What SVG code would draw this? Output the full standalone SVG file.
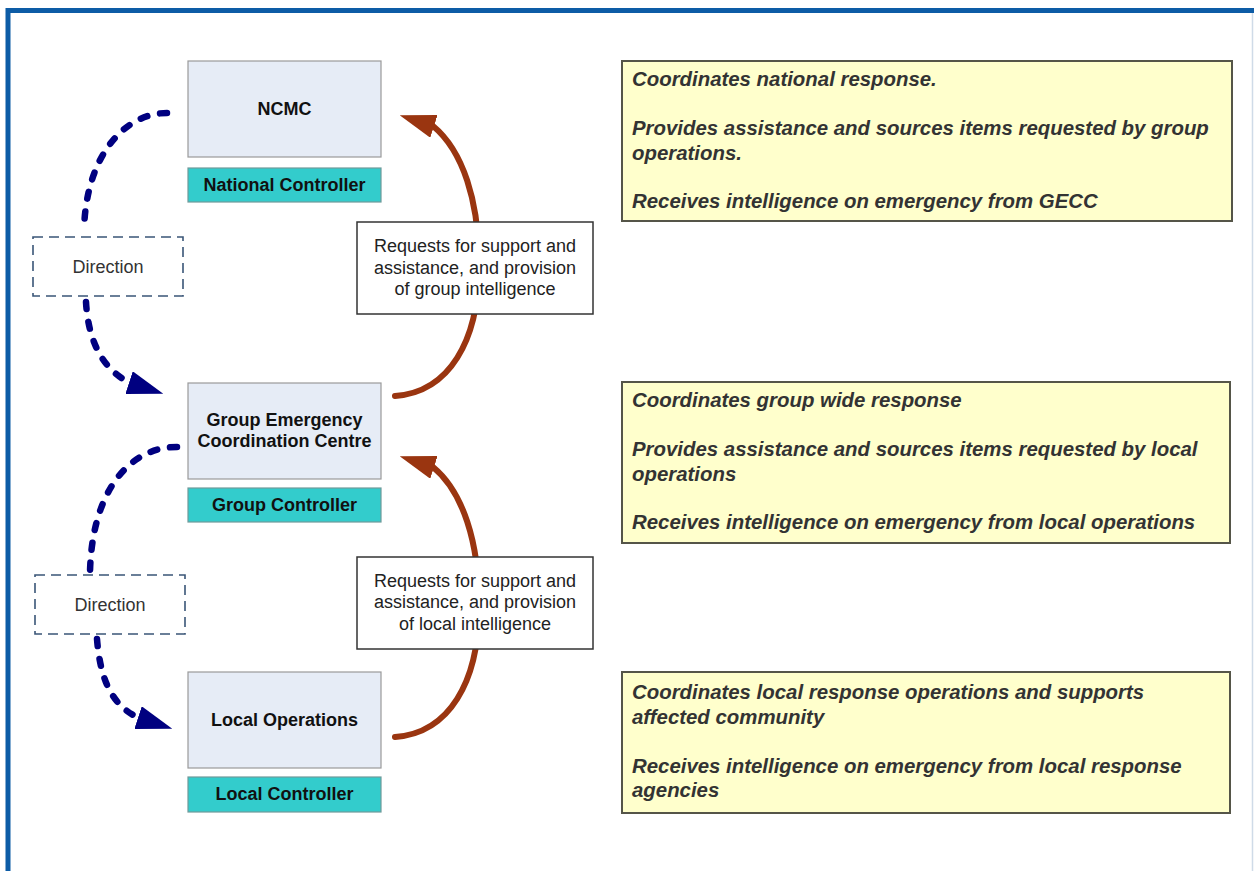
<svg xmlns="http://www.w3.org/2000/svg" width="1254" height="871" viewBox="0 0 1254 871">
  <defs>
    <style>
      text { font-family: "Liberation Sans", Arial, sans-serif; }
      .centre { fill: #e6ecf6; stroke: #9a9a9a; stroke-width: 1.2; }
      .role { fill: #33cccc; stroke: #6f9a9a; stroke-width: 1.2; }
      .nodeText { font-size: 18px; font-weight: bold; fill: #111; text-anchor: middle; }
      .dir { fill: #ffffff; stroke: #3a5577; stroke-width: 1.6; stroke-dasharray: 10 6; }
      .dirText { font-size: 18px; fill: #333; text-anchor: middle; }
      .req { fill: #ffffff; stroke: #333; stroke-width: 1.5; }
      .reqText { font-size: 18px; fill: #222; text-anchor: middle; }
      .note { fill: #ffffcc; stroke: #555548; stroke-width: 2; }
      .noteText { font-size: 20.4px; font-weight: bold; font-style: italic; fill: #333; }
      .direction { fill: none; stroke: #000080; stroke-width: 6.5; stroke-linecap: round; stroke-dasharray: 7 13; }
      .request { fill: none; stroke: #9a3510; stroke-width: 6; stroke-linecap: round; }
    </style>
    <marker id="headBlue" viewBox="0 0 36 24" refX="1" refY="12" markerWidth="36" markerHeight="24" markerUnits="userSpaceOnUse" orient="18">
      <path d="M0,0 L36,12 L0,24 Z" fill="#000080"/>
    </marker>
    <marker id="headBrown" viewBox="0 0 36 24" refX="1" refY="12" markerWidth="36" markerHeight="24" markerUnits="userSpaceOnUse" orient="198">
      <path d="M0,0 L36,12 L0,24 Z" fill="#9a3510"/>
    </marker>
  </defs>

  <rect width="1254" height="871" fill="#ffffff"/>

  <!-- outer frame -->
  <g id="frame">
    <path d="M8,871 V10.5 H1254" fill="none" stroke="#0d5ca6" stroke-width="5"/>
    <line x1="1252.5" y1="13" x2="1252.5" y2="871" stroke="#cfdbe8" stroke-width="1.5"/>
  </g>

  <!-- connectors -->
  <g id="connectors">
    <path class="direction" d="M167,113 C 125,113 86,155 84,230"/>
    <path class="direction" d="M86,302 C 88,337 100,368 130,383" marker-end="url(#headBlue)"/>
    <path class="direction" d="M177,447 C 130,447 92,490 90,572"/>
    <path class="direction" d="M97,639 C 100,676 110,705 139,718" marker-end="url(#headBlue)"/>
    <path class="request" d="M395,396 C 450,392 478,340 479,270 C 480,200 462,150 433,126" marker-end="url(#headBrown)"/>
    <path class="request" d="M395,737 C 450,733 478,681 479,611 C 480,541 462,491 433,467" marker-end="url(#headBrown)"/>
  </g>

  <!-- national level -->
  <g id="ncmc">
    <rect class="centre" x="188" y="61" width="193" height="96"/>
    <text class="nodeText" x="284.5" y="115">NCMC</text>
  </g>
  <g id="national-controller">
    <rect class="role" x="188" y="168" width="193" height="34"/>
    <text class="nodeText" x="284.5" y="191">National Controller</text>
  </g>

  <!-- group level -->
  <g id="gecc">
    <rect class="centre" x="188" y="383" width="193" height="96"/>
    <text class="nodeText" x="284.5" y="426">Group Emergency</text>
    <text class="nodeText" x="284.5" y="447">Coordination Centre</text>
  </g>
  <g id="group-controller">
    <rect class="role" x="188" y="488" width="193" height="34"/>
    <text class="nodeText" x="284.5" y="511">Group Controller</text>
  </g>

  <!-- local level -->
  <g id="local-operations">
    <rect class="centre" x="188" y="672" width="193" height="96"/>
    <text class="nodeText" x="284.5" y="726">Local Operations</text>
  </g>
  <g id="local-controller">
    <rect class="role" x="188" y="777" width="193" height="35"/>
    <text class="nodeText" x="284.5" y="800">Local Controller</text>
  </g>

  <!-- direction labels -->
  <g id="direction-1">
    <rect class="dir" x="33" y="237" width="150" height="59"/>
    <text class="dirText" x="108" y="273">Direction</text>
  </g>
  <g id="direction-2">
    <rect class="dir" x="35" y="575" width="150" height="59"/>
    <text class="dirText" x="110" y="611">Direction</text>
  </g>

  <!-- request labels -->
  <g id="request-group">
    <rect class="req" x="357" y="222" width="236" height="92"/>
    <text class="reqText" x="475" y="252">Requests for support and</text>
    <text class="reqText" x="475" y="273.5">assistance, and provision</text>
    <text class="reqText" x="475" y="295">of group intelligence</text>
  </g>
  <g id="request-local">
    <rect class="req" x="357" y="557" width="236" height="92"/>
    <text class="reqText" x="475" y="586.5">Requests for support and</text>
    <text class="reqText" x="475" y="608">assistance, and provision</text>
    <text class="reqText" x="475" y="630">of local intelligence</text>
  </g>

  <!-- role descriptions -->
  <g id="note-national">
    <rect class="note" x="622" y="61" width="610" height="160"/>
    <text class="noteText" x="632" y="86">Coordinates national response.</text>
    <text class="noteText" x="632" y="135">Provides assistance and sources items requested by group</text>
    <text class="noteText" x="632" y="160">operations.</text>
    <text class="noteText" x="632" y="208">Receives intelligence on emergency from GECC</text>
  </g>
  <g id="note-group">
    <rect class="note" x="622" y="382" width="608" height="161"/>
    <text class="noteText" x="632" y="407">Coordinates group wide response</text>
    <text class="noteText" x="632" y="456">Provides assistance and sources items requested by local</text>
    <text class="noteText" x="632" y="481">operations</text>
    <text class="noteText" x="632" y="529">Receives intelligence on emergency from local operations</text>
  </g>
  <g id="note-local">
    <rect class="note" x="622" y="672" width="608" height="141"/>
    <text class="noteText" x="632" y="699">Coordinates local response operations and supports</text>
    <text class="noteText" x="632" y="724">affected community</text>
    <text class="noteText" x="632" y="773">Receives intelligence on emergency from local response</text>
    <text class="noteText" x="632" y="797">agencies</text>
  </g>
</svg>
